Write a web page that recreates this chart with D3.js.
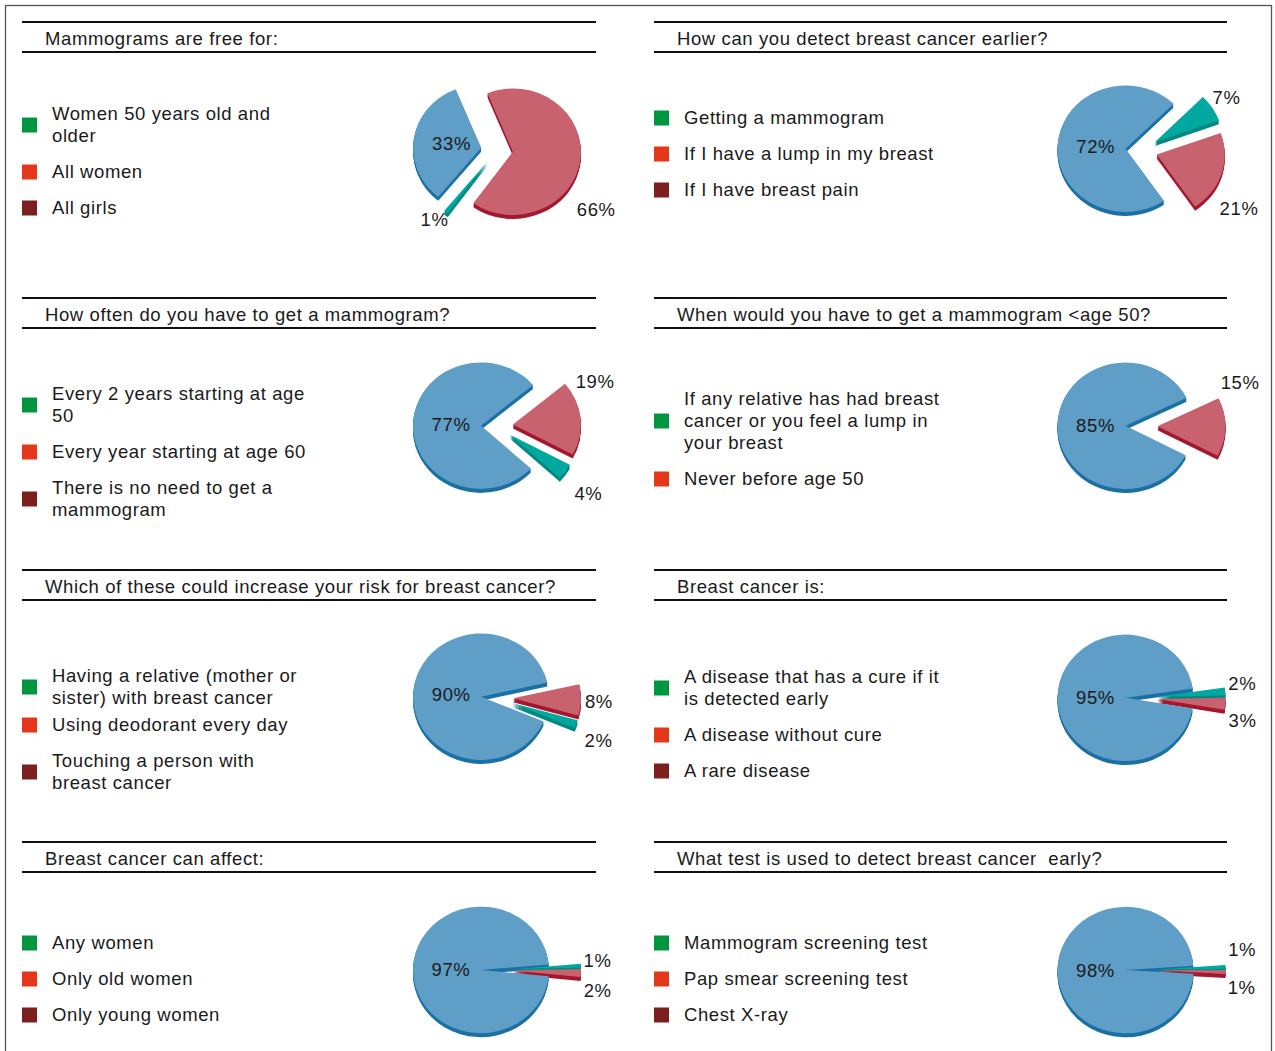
<!DOCTYPE html>
<html>
<head>
<meta charset="utf-8">
<script src="https://cdn.jsdelivr.net/npm/d3@7"></script>
<style>
  html, body { margin: 0; padding: 0; background: #fff; }
  svg { display: block; }
  text { font-family: "Liberation Sans", Arial, sans-serif; fill: #1a1a1a; letter-spacing: 0.6px; }
</style>
</head>
<body>
<svg id="chart" width="1275" height="1051"></svg>
<script>
// ---- Survey questions (panel titles, row-major: left, right) ----
const titles = [
  "Mammograms are free for:",
  "How can you detect breast cancer earlier?",
  "How often do you have to get a mammogram?",
  "When would you have to get a mammogram <age 50?",
  "Which of these could increase your risk for breast cancer?",
  "Breast cancer is:",
  "Breast cancer can affect:",
  "What test is used to detect breast cancer  early?"
];

// ---- Answer options per question ("\n" marks a line break) ----
const answers = [
  ["Women 50 years old and\nolder", "All women", "All girls"],
  ["Getting a mammogram", "If I have a lump in my breast", "If I have breast pain"],
  ["Every 2 years starting at age\n50", "Every year starting at age 60", "There is no need to get a\nmammogram"],
  ["If any relative has had breast\ncancer or you feel a lump in\nyour breast", "Never before age 50"],
  ["Having a relative (mother or\nsister) with breast cancer", "Using deodorant every day", "Touching a person with\nbreast cancer"],
  ["A disease that has a cure if it\nis detected early", "A disease without cure", "A rare disease"],
  ["Any women", "Only old women", "Only young women"],
  ["Mammogram screening test", "Pap smear screening test", "Chest X-ray"]
];

// ---- Share of respondents (%) per answer, same order as answers ----
const shares = [
  [33, 66, 1],
  [72, 21, 7],
  [77, 19, 4],
  [85, 15],
  [90, 8, 2],
  [95, 3, 2],
  [97, 2, 1],
  [98, 1, 1]
];

// ---- Layout ----
const rowTops = [22, 298, 570, 842];
const colSpans = [[22, 596], [654, 1227]];
const pieOffsetX = [475, 487.5];
const pieOffsetY = 128;
const legendTop = [92, 96, 96, 101, 106, 107, 101, 101];   // first legend line, below row top
const legendGaps = [14, 14, 14, 14, [5, 14], 14, 14, 14];  // extra space between legend items
// clockwise drawing order of slices and rotation of the first slice (degrees)
const sliceOrder = [[1, 2, 0], [2, 1, 0], [1, 2, 0], [1, 0], [1, 2, 0], [2, 1, 0], [2, 1, 0], [2, 1, 0]];
const startDeg = [-22, 44.8, 50, 63.8, 77, 81.6, 85, 86];
// outside label placement: answer index -> [angle shift from slice middle (deg), radius]
const labelPlace = [
  {1: [26, 118], 2: [2.5, 97.5]},
  {2: [-1, 102], 1: [15, 116]},
  {1: [-20, 109], 2: [3, 117]},
  {1: [-26, 109]},
  {1: [1, 102], 2: [5, 111.5]},
  {2: [-4, 102], 1: [9.5, 104]},
  {2: [-2.6, 101], 1: [10, 103]},
  {2: [-10, 103], 1: [9.5, 102]}
];

const R = 68, tilt = 0.93, depth = 4, explode = 16;
const faceColors = ["#5f9ec6", "#c8626e", "#00a8a0"];
const sideColors = ["#1b70a6", "#a5182f", "#008a82"];
const keyColors = ["#00953f", "#e5371b", "#7b1f1f"];
const fontSize = 18.5, lineStep = 22;

const svg = d3.select("#chart");
const rad = d => d * Math.PI / 180;

// outer frame
svg.append("rect")
  .attr("x", 5.5).attr("y", 5.5).attr("width", 1266).attr("height", 1070)
  .attr("fill", "none").attr("stroke", "#555").attr("stroke-width", 1.3);

const arc = d3.arc().innerRadius(0).outerRadius(R);

titles.forEach((title, p) => {
  const col = p % 2, row = Math.floor(p / 2);
  const [x0, x1] = colSpans[col];
  const top = rowTops[row];
  const g = svg.append("g");

  // header rules and title
  [top, top + 30].forEach(y => {
    g.append("line").attr("x1", x0).attr("x2", x1).attr("y1", y).attr("y2", y)
      .attr("stroke", "#111").attr("stroke-width", 2);
  });
  g.append("text").attr("x", x0 + 23).attr("y", top + 23)
    .attr("font-size", fontSize).style("white-space", "pre").text(title);

  // legend
  let y = top + legendTop[p];
  const gaps = legendGaps[p];
  answers[p].forEach((label, i) => {
    const lines = label.split("\n");
    const blockMid = y + (lines.length - 1) * lineStep / 2;
    g.append("rect").attr("x", x0).attr("y", blockMid - 7.5)
      .attr("width", 15).attr("height", 15).attr("fill", keyColors[i]);
    lines.forEach((ln, k) => {
      g.append("text").attr("x", x0 + 30).attr("y", y + k * lineStep)
        .attr("dy", "0.35em").attr("font-size", fontSize).text(ln);
    });
    const gap = Array.isArray(gaps) ? (gaps[i] ?? 14) : gaps;
    y += (lines.length - 1) * lineStep + lineStep + gap;
  });

  // exploded 3D pie
  const cx = x0 + pieOffsetX[col], cy = top + pieOffsetY;
  const ordered = sliceOrder[p].map(i => ({ idx: i, v: shares[p][i] }));
  const a0 = rad(startDeg[p]);
  const slices = d3.pie().sort(null).value(d => d.v)
    .startAngle(a0).endAngle(a0 + 2 * Math.PI)(ordered);

  const pie = g.append("g").attr("transform", `translate(${cx},${cy})`);
  const shift = d => {
    const m = (d.startAngle + d.endAngle) / 2;
    return [explode * Math.sin(m), -explode * Math.cos(m) * tilt];
  };

  // sides (extrusion below each slice)
  for (let k = depth; k >= 1; k--) {
    pie.selectAll(null).data(slices).join("path")
      .attr("transform", d => { const [tx, ty] = shift(d); return `translate(${tx},${ty + k}) scale(1,${tilt})`; })
      .attr("d", arc)
      .attr("fill", d => sideColors[d.data.idx]);
  }
  // top faces
  pie.selectAll(null).data(slices).join("path")
    .attr("transform", d => { const [tx, ty] = shift(d); return `translate(${tx},${ty}) scale(1,${tilt})`; })
    .attr("d", arc)
    .attr("fill", d => faceColors[d.data.idx]);

  // percentage labels
  pie.selectAll(null).data(slices).join("text")
    .attr("font-size", fontSize)
    .attr("text-anchor", "middle")
    .attr("dy", "0.35em")
    .attr("transform", d => {
      const m = (d.startAngle + d.endAngle) / 2;
      let ang = m, r = explode + 30;
      if (d.data.idx !== 0) {
        const [shiftDeg, lr] = labelPlace[p][d.data.idx];
        ang = m + rad(shiftDeg); r = lr;
      }
      return `translate(${r * Math.sin(ang)},${-r * Math.cos(ang) * tilt})`;
    })
    .text(d => d.data.v + "%");
});
</script>
</body>
</html>
